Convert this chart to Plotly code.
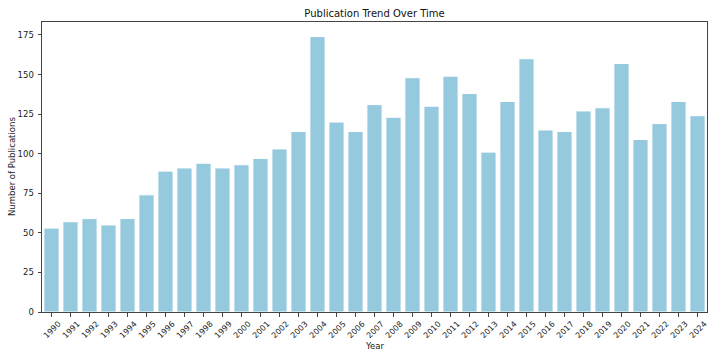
import plotly.graph_objects as go

# Data
years = [str(y) for y in range(1990, 2025)]
publications = [53, 57, 59, 55, 59, 74, 89, 91, 94, 91,
                93, 97, 103, 114, 174, 120, 114, 131, 123, 148,
                130, 149, 138, 101, 133, 160, 115, 114, 127, 129,
                157, 109, 119, 133, 124]
y_ticks = [0, 25, 50, 75, 100, 125, 150, 175]

bar_color = '#95C9DE'
axis_color = '#444444'
text_color = '#222222'

fig = go.Figure()

fig.add_trace(go.Bar(
    x=years,
    y=publications,
    marker=dict(color=bar_color, line=dict(color='white', width=1)),
    width=0.8,
    showlegend=False
))

# rotated year labels, centred under each tick like matplotlib's rotation=45
# (category axis: annotations take the category's serial number)
for i, yr in enumerate(years):
    fig.add_annotation(
        x=i, y=0, xref='x', yref='paper',
        text=yr, showarrow=False, textangle=-45,
        xanchor='center', yanchor='top', yshift=-5,
        font=dict(size=8, color=text_color)
    )

# axis titles
fig.add_annotation(x=0.5, y=0, xref='paper', yref='paper', text='Year',
                   showarrow=False, xanchor='center', yanchor='middle', yshift=-34,
                   font=dict(size=8.5, color=text_color))
fig.add_annotation(x=0, y=0.5, xref='paper', yref='paper', text='Number of Publications',
                   showarrow=False, textangle=-90, xanchor='center', yanchor='middle',
                   xshift=-30, font=dict(size=8.5, color=text_color))

fig.update_layout(
    width=718,
    height=359,
    margin=dict(l=42, r=11, t=22, b=47, autoexpand=False),
    paper_bgcolor='white',
    plot_bgcolor='white',
    font=dict(family='DejaVu Sans', size=8.5, color=text_color),
    title=dict(text='Publication Trend Over Time', xref='paper', x=0.5, xanchor='center',
               y=1 - 13.5 / 359, yanchor='middle', font=dict(size=10, color='#111111')),
    bargap=0.2,
    xaxis=dict(
        type='category',
        range=[-0.5, len(years) - 0.5],
        showticklabels=False,
        ticks='outside', ticklen=3.5, tickwidth=1, tickcolor=axis_color,
        showline=True, linecolor=axis_color, linewidth=1, mirror=True,
        showgrid=False, zeroline=False, automargin=False,
    ),
    yaxis=dict(
        range=[0, 183.2],
        tickvals=y_ticks,
        ticks='outside', ticklen=3.5, tickwidth=1, tickcolor=axis_color,
        ticklabelstandoff=2,
        showline=True, linecolor=axis_color, linewidth=1, mirror=True,
        showgrid=False, zeroline=False, automargin=False,
    ),
)

# drop the browser's default body margin so the figure sits at the page corner
fig.write_html('out.html', config={'displayModeBar': False},
               post_script="document.body.style.margin='0';")
